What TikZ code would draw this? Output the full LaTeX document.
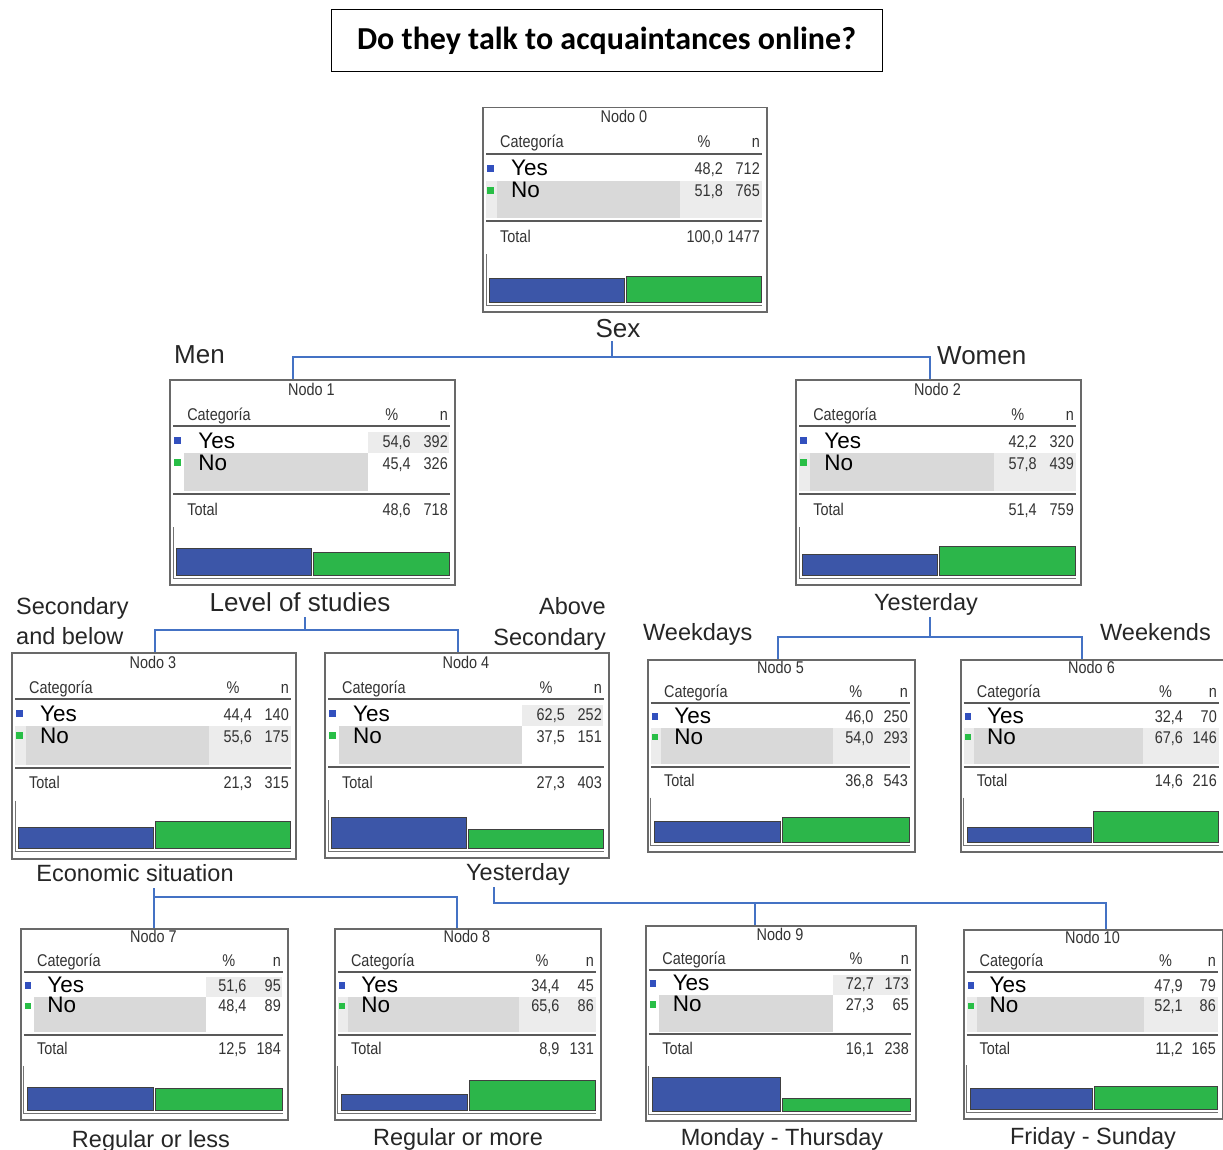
\documentclass[tikz,border=0pt]{standalone}
\usepackage{fontspec}
\setmainfont{Liberation Sans}
\newfontfamily\narrowf[FakeStretch=0.85]{Liberation Sans}
\newfontfamily\calib{Carlito}
\usetikzlibrary{calc}
\definecolor{barblue}{RGB}{60,86,168}
\definecolor{bargreen}{RGB}{44,182,74}
\definecolor{conncol}{RGB}{68,114,196}
\definecolor{boxgray}{RGB}{105,105,105}
\definecolor{darkshade}{RGB}{217,217,217}
\definecolor{lightshade}{RGB}{236,236,236}
\definecolor{sqblue}{RGB}{50,80,190}
\definecolor{sqgreen}{RGB}{40,190,70}
\tikzset{
 treebox/.style={draw=boxgray, line width=1.5pt, fill=white, inner sep=0pt, anchor=north west},
 small/.style={font=\narrowf\fontsize{17}{17}\selectfont, inner sep=0pt, text=black!80},
 catlbl/.style={font=\fontsize{22.5}{22.5}\selectfont, inner sep=0pt, text=black, text height=16pt, text depth=2pt},
 sepline/.style={draw=black!65, line width=2pt},
 conn/.style={draw=conncol, line width=1.6pt},
 lbl/.style={font=\fontsize{23.5}{23.5}\selectfont, inner sep=0pt, text=black!85, anchor=base},
 biglbl/.style={font=\fontsize{26}{26}\selectfont, inner sep=0pt, text=black!85, anchor=base},
 barbox/.style={draw=black!75, line width=1pt},
}
\newcommand\pp[2]{({#1*\sx},{#2*\sy})}
\newcommand\tnode[9]{%
 \def\TNname{#1}\def\TNx{#2}\def\TNy{#3}\def\TNw{#4}\def\TNh{#5}\def\TNnum{#6}%
 \def\TNyp{#7}\def\TNyn{#8}\def\TNnp{#9}\tnodeB}
\newcommand\tnodeB[3]{%
 \node[treebox, minimum width={\TNw pt}, minimum height={\TNh pt}] (\TNname) at (\TNx,\TNy) {};
 \begin{scope}[shift={(\TNx,\TNy)}]
 \pgfmathsetmacro\sx{\TNw/284}
 \pgfmathsetmacro\sy{\TNh/205}
 \ifnum\TNyn<#1\relax
  \fill[lightshade] \pp{4}{74} rectangle ({\TNw-4},{112*\sy});
 \else
  \fill[lightshade] \pp{198}{53} rectangle ({\TNw-5},{74*\sy});
 \fi
 \fill[darkshade] \pp{15}{74} rectangle \pp{198}{112};
 \node[small, anchor=base] at ({\TNw/2},{16*\sy}) {Nodo \TNnum};
 \node[small, anchor=base west] at \pp{18}{41} {Categoría};
 \node[small, anchor=base] at ({\TNw-62*\sx},{41*\sy}) {\%};
 \node[small, anchor=base east] at ({\TNw-6},{41*\sy}) {n};
 \draw[sepline] \pp{4}{47} -- ({\TNw-4},{47*\sy});
 \fill[sqblue] \pp{5}{58} rectangle \pp{12}{65};
 \node[catlbl, anchor=base west] at \pp{29}{69} {Yes};
 \node[small, anchor=base east] at ({\TNw-43*\sx},{68*\sy}) {\TNyp};
 \node[small, anchor=base east] at ({\TNw-6},{68*\sy}) {\TNyn};
 \fill[sqgreen] \pp{5}{80} rectangle \pp{12}{87};
 \node[catlbl, anchor=base west] at \pp{29}{91} {No};
 \node[small, anchor=base east] at ({\TNw-43*\sx},{90*\sy}) {\TNnp};
 \node[small, anchor=base east] at ({\TNw-6},{90*\sy}) {#1};
 \draw[sepline] \pp{4}{115} -- ({\TNw-4},{115*\sy});
 \node[small, anchor=base west] at \pp{18}{136} {Total};
 \node[small, anchor=base east] at ({\TNw-43*\sx},{136*\sy}) {#2};
 \node[small, anchor=base east] at ({\TNw-6},{136*\sy}) {#3};
 \draw[black!55, line width=1pt] \pp{4}{148} -- \pp{4}{199} -- ({\TNw-4},{199*\sy});
 \pgfmathsetmacro\hy{49*(\TNyn/#3)*\sy}
 \pgfmathsetmacro\hn{49*(#1/#3)*\sy}
 \filldraw[barbox, fill=barblue] (7,{196*\sy}) rectangle ({\TNw/2},{196*\sy-\hy});
 \filldraw[barbox, fill=bargreen] ({\TNw/2+2},{196*\sy}) rectangle ({\TNw-5},{196*\sy-\hn});
 \end{scope}}
\begin{document}
\begin{tikzpicture}[x=1pt,y=-1pt]
\fill[white] (0,0) rectangle (1223,1150);
\useasboundingbox (0,0) rectangle (1223,1150);
% title
\node[draw=black, line width=1pt, minimum width=551pt, minimum height=62pt, inner sep=0pt,
  font=\calib\bfseries\fontsize{32}{32}\selectfont] (title) at (606.5,41) {Do they talk to acquaintances online?};
% split labels
\node[biglbl] (lsex) at (618,337) {Sex};
\node[biglbl, anchor=base west] (lmen) at (174,363) {Men};
\node[biglbl, anchor=base west] (lwomen) at (937,364) {Women};
\node[biglbl] (llevel) at (300,611) {Level of studies};
\node[lbl, anchor=base west] (lsec1) at (16,614) {Secondary};
\node[lbl, anchor=base west] (lsec2) at (16,644) {and below};
\node[lbl, anchor=base east] (labove1) at (606,614) {Above};
\node[lbl, anchor=base east] (labove2) at (606,645) {Secondary};
\node[lbl] (lyest1) at (926,610) {Yesterday};
\node[lbl, anchor=base west] (lwkd) at (643,640) {Weekdays};
\node[lbl, anchor=base west] (lwke) at (1100,640) {Weekends};
\node[lbl] (lecon) at (135,881) {Economic situation};
\node[lbl] (lyest2) at (518,880) {Yesterday};
\node[lbl] (lreg1) at (151,1147) {Regular or less};
\node[lbl] (lreg2) at (458,1145) {Regular or more};
\node[lbl] (lmon) at (782,1145) {Monday - Thursday};
\node[lbl] (lfri) at (1093,1144) {Friday - Sunday};
% connectors
\coordinate (s0) at (612,341);
\coordinate (j0) at (612,357);
\coordinate (n1in) at (293,379);
\coordinate (n2in) at (930,379);
\coordinate (s1) at (305,617);
\coordinate (j1) at (305,630);
\coordinate (n3in) at (155,652);
\coordinate (n4in) at (458,652);
\coordinate (s2) at (930,617);
\coordinate (j2) at (930,637);
\coordinate (n5in) at (778,659);
\coordinate (n6in) at (1082,659);
\coordinate (s3) at (154,888);
\coordinate (j3) at (154,897);
\coordinate (n7in) at (154,928);
\coordinate (n8in) at (457,928);
\coordinate (s4) at (494,887);
\coordinate (j4) at (494,903);
\coordinate (n9in) at (755,925);
\coordinate (n10in) at (1106,929);
\draw[conn] (s0) -- (j0);
\draw[conn] (n1in) -- (n1in |- j0) -- (n2in |- j0) -- (n2in);
\draw[conn] (s1) -- (j1);
\draw[conn] (n3in) -- (n3in |- j1) -- (n4in |- j1) -- (n4in);
\draw[conn] (s2) -- (j2);
\draw[conn] (n5in) -- (n5in |- j2) -- (n6in |- j2) -- (n6in);
\draw[conn] (s3) -- (n7in);
\draw[conn] (j3) -- (n8in |- j3) -- (n8in);
\draw[conn] (s4) -- (j4) -- (n10in |- j4) -- (n10in);
\draw[conn] (n9in |- j4) -- (n9in);
% tree nodes
\tnode{n0}{482}{107}{284}{204}{0}{48,2}{712}{51,8}{765}{100,0}{1477}
\tnode{n1}{169}{379}{285}{205}{1}{54,6}{392}{45,4}{326}{48,6}{718}
\tnode{n2}{795}{379}{285}{205}{2}{42,2}{320}{57,8}{439}{51,4}{759}
\tnode{n3}{11}{652}{284}{206}{3}{44,4}{140}{55,6}{175}{21,3}{315}
\tnode{n4}{324}{652}{284}{205}{4}{62,5}{252}{37,5}{151}{27,3}{403}
\tnode{n5}{647}{659}{267}{192}{5}{46,0}{250}{54,0}{293}{36,8}{543}
\tnode{n6}{960}{659}{263}{192}{6}{32,4}{70}{67,6}{146}{14,6}{216}
\tnode{n7}{20}{928}{267}{191}{7}{51,6}{95}{48,4}{89}{12,5}{184}
\tnode{n8}{334}{928}{266}{191}{8}{34,4}{45}{65,6}{86}{8,9}{131}
\tnode{n9}{645}{925}{270}{195}{9}{72,7}{173}{27,3}{65}{16,1}{238}
\tnode{n10}{963}{929}{259}{189}{10}{47,9}{79}{52,1}{86}{11,2}{165}
\end{tikzpicture}
\end{document}
